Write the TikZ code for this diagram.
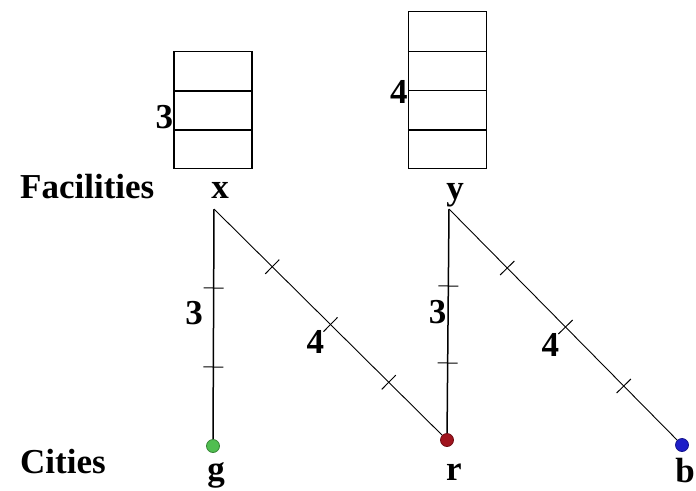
\documentclass[tikz,border=0pt]{standalone}
\usepackage{fontspec}
\setmainfont{Liberation Serif}
\usetikzlibrary{positioning, backgrounds}
\definecolor{cityg}{RGB}{80,190,80}
\definecolor{cityr}{RGB}{160,20,30}
\definecolor{cityb}{RGB}{30,30,200}

\begin{document}
\begin{tikzpicture}[
    x=1pt, y=-1pt,
    font=\fontsize{35}{40}\selectfont\bfseries,
    slotbox/.style={draw, line width=1.5pt, minimum width=78pt, inner sep=0pt, anchor=south},
    slotline/.style={line width=1.5pt},
    city/.style={circle, draw=#1!70!black, fill=#1, line width=0.8pt, minimum size=13pt, inner sep=0pt},
    straight/.style={line width=1.5pt},
    diag/.style={line width=0.9pt},
    tick/.style={sloped, draw, line width=1pt, minimum width=0pt, minimum height=20pt, inner sep=0pt, outer sep=0pt},
    wt/.style={inner sep=0pt}
]
    \useasboundingbox (0,0) rectangle (696,490);

    % capacity boxes
    \node[slotbox, minimum height=117pt] (capx) at (213,169) {};
    \node[slotbox, minimum height=157pt] (capy) at (447.5,169) {};
    \foreach \k in {1,2}
        \draw[slotline] ([yshift=\k*39pt]capx.south west) -- ([yshift=\k*39pt]capx.south east);
    \foreach \k in {1,2,3}
        \draw[slotline] ([yshift=\k*39.25pt]capy.south west) -- ([yshift=\k*39.25pt]capy.south east);
    \node[left=0pt of capx.west, yshift=-7pt, inner sep=0pt] (nx) {3};
    \node[left=0pt of capy.west, yshift=-2.5pt, inner sep=0pt] (ny) {4};

    % facilities
    \coordinate (fx) at (214,209);
    \coordinate (fy) at (449,209);
    \node[anchor=base, inner sep=0pt] (lx) at ([xshift=6pt, yshift=11pt]fx) {x};
    \node[anchor=base, inner sep=0pt] (ly) at ([xshift=6pt, yshift=10pt]fy) {y};
    \node[anchor=base west, inner sep=0pt] (fac) at (20,198) {Facilities};

    % cities
    \node[city=cityg] (g) at (213,446) {};
    \node[city=cityr] (r) at (447,440) {};
    \node[city=cityb] (b) at (682,445) {};
    \node[anchor=base, inner sep=0pt] (lg) at ([xshift=3pt, yshift=-34pt]g.center) {g};
    \node[anchor=base, inner sep=0pt] (lr) at ([xshift=7pt, yshift=-40pt]r.center) {r};
    \node[anchor=base, inner sep=0pt] (lb) at ([xshift=3pt, yshift=-37pt]b.center) {b};
    \node[anchor=base west, inner sep=0pt] (cit) at (20,473) {Cities};

    \begin{scope}[on background layer]
        \draw[straight] (fx) -- node[tick, pos=1/3]{} node[tick, pos=2/3]{}
            node[wt, pos=0.44, left=10pt]{3} (g.center);
        \draw[diag] (fx) -- node[tick, pos=1/4]{} node[tick, pos=1/2]{} node[tick, pos=3/4]{}
            node[pos=0.5, anchor=north east, inner sep=6pt]{4} (r.center);
        \draw[straight] (fy) -- node[tick, pos=1/3]{} node[tick, pos=2/3]{}
            node[wt, pos=0.445, left=1pt]{3} (r.center);
        \draw[diag] (fy) -- node[tick, pos=1/4]{} node[tick, pos=1/2]{} node[tick, pos=3/4]{}
            node[pos=0.5, anchor=north east, inner sep=6pt]{4} (b.center);
    \end{scope}
\end{tikzpicture}
\end{document}
